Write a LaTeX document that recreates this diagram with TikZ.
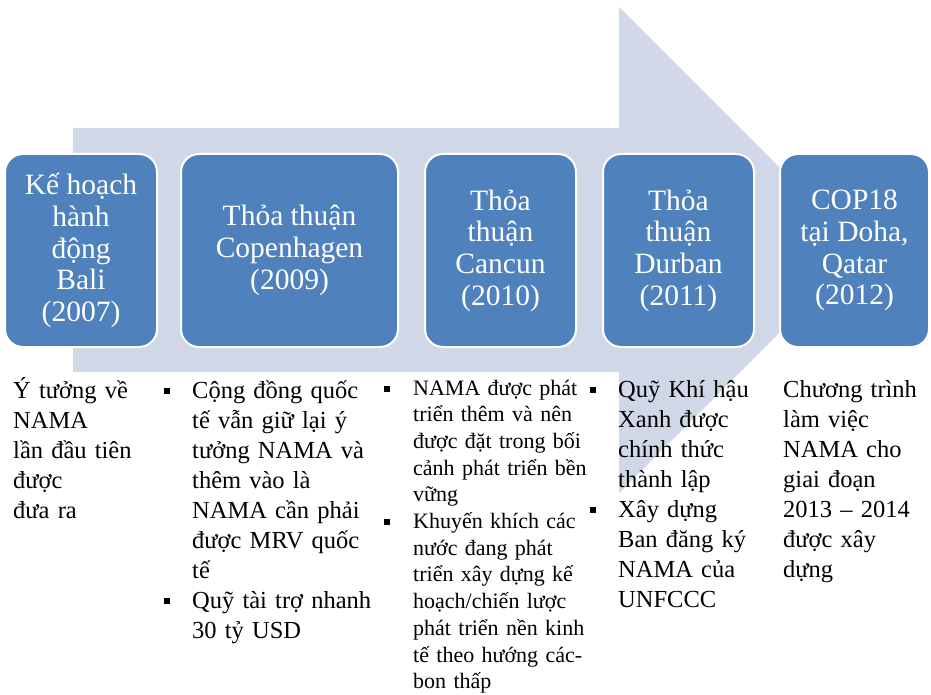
\documentclass[tikz,border=0pt]{standalone}
\usepackage{fontspec}
\setmainfont{Liberation Serif}
\definecolor{boxblue}{HTML}{4F81BD}
\definecolor{arrowfill}{HTML}{D0D8E8}
\newcommand{\bulA}{\leavevmode\llap{\rule[4pt]{6.5pt}{6.5pt}\hspace{22pt}}}
\newcommand{\bulB}{\leavevmode\llap{\rule[3.5pt]{6pt}{6pt}\hspace{23pt}}}
\begin{document}
\begin{tikzpicture}[x=1pt,y=-1pt,
  stage/.style={draw=white, line width=2pt, fill=boxblue, rounded corners=18pt,
    text=white, align=center, inner sep=0pt, minimum height=193pt,
    font=\fontsize{29.5}{31.7}\selectfont},
  desc/.style={anchor=base west, inner sep=0pt, align=left, text width=220pt,
    font=\fontsize{24.5}{30}\selectfont},
  descsmall/.style={desc, font=\fontsize{22}{26.7}\selectfont}]
\useasboundingbox (0,0) rectangle (931,695);
% big arrow
\fill[arrowfill] (73,128) -- (619,128) -- (619,7) -- (862,250) -- (619,493)
  -- (619,372) -- (73,372) -- cycle;
% stage boxes
\node[stage, minimum width=152pt] (b1) at (81,250.5) {Kế hoạch\\hành\\động\\Bali\\(2007)};
\node[stage, minimum width=217pt] (b2) at (289.5,250.5) {Thỏa thuận\\Copenhagen\\(2009)};
\node[stage, minimum width=151pt] (b3) at (500.5,250.5) {Thỏa\\thuận\\Cancun\\(2010)};
\node[stage, minimum width=151pt] (b4) at (678.5,250.5) {Thỏa\\thuận\\Durban\\(2011)};
\node[stage, minimum width=149pt] (b5) at (854.5,250.5) {COP18\\tại Doha,\\Qatar\\(2012)};
% descriptions
\node[desc] (t1) at (13,398) {Ý tưởng về\\NAMA\\lần đầu tiên\\được\\đưa ra};
\node[desc] (t2) at (192,398) {\bulA Cộng đồng quốc\\tế vẫn giữ lại ý\\tưởng NAMA và\\thêm vào là\\NAMA cần phải\\được MRV quốc\\tế\\\bulA Quỹ tài trợ nhanh\\30 tỷ USD};
\node[descsmall] (t3) at (413,395) {\bulB NAMA được phát\\triển thêm và nên\\được đặt trong bối\\cảnh phát triển bền\\vững\\\bulB Khuyến khích các\\nước đang phát\\triển xây dựng kế\\hoạch/chiến lược\\phát triển nền kinh\\tế theo hướng các-\\bon thấp};
\node[desc] (t4) at (618,397) {\bulA Quỹ Khí hậu\\Xanh được\\chính thức\\thành lập\\\bulA Xây dựng\\Ban đăng ký\\NAMA của\\UNFCCC};
\node[desc] (t5) at (783,397) {Chương trình\\làm việc\\NAMA cho\\giai đoạn\\2013 – 2014\\được xây\\dựng};
\end{tikzpicture}
\end{document}
